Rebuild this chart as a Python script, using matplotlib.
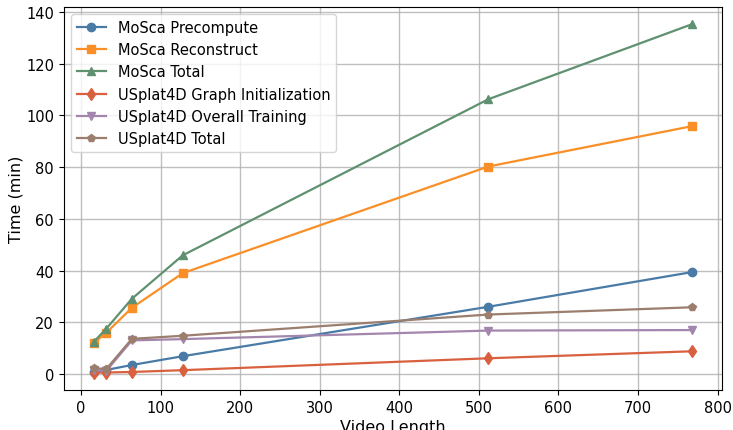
import matplotlib
matplotlib.use("Agg")
import matplotlib.pyplot as plt

# video lengths (frames)
video_len = [16, 32, 64, 128, 512, 768]

mosca_pre = [0.9, 1.6, 3.5, 6.9, 26.0, 39.4]
mosca_rec = [12.0, 16.0, 25.6, 39.0, 80.2, 95.8]
mosca_tot = [12.4, 17.6, 29.1, 45.9, 106.2, 135.2]
usplat_init = [0.6, 0.6, 0.8, 1.5, 6.1, 8.8]
usplat_train = [1.5, 1.3, 13.0, 13.5, 16.8, 17.0]
usplat_tot = [2.2, 2.0, 13.6, 14.8, 23.0, 25.8]

names = ["MoSca Precompute", "MoSca Reconstruct", "MoSca Total",
         "USplat4D Graph Initialization", "USplat4D Overall Training", "USplat4D Total"]
colors = ["#4a7ba7", "#f98f26", "#5f9170", "#d9603f", "#a386ad", "#9c7e6e"]
markers = ["o", "s", "^", "d", "v", "p"]

fig, ax = plt.subplots(figsize=(7.33, 4.31), dpi=100)
series = [mosca_pre, mosca_rec, mosca_tot, usplat_init, usplat_train, usplat_tot]
for s, n, c, m in zip(series, names, colors, markers):
    ax.plot(video_len, s, marker=m, color=c, label=n, linewidth=1.6, markersize=6)

ax.set_xlabel("Video Length", fontsize=11.5, labelpad=3)
ax.set_ylabel("Time (min)", fontsize=11.5, labelpad=2)
ax.tick_params(labelsize=10.5)
ax.set_yticks(range(0, 141, 20))
ax.grid(True, color="#b0b0b0", linewidth=1, alpha=0.8)
ax.legend(loc="upper left", fontsize=10.5, borderaxespad=0.5)

plt.subplots_adjust(left=0.087, right=0.985, top=0.982, bottom=0.093)
plt.savefig("out.png")
